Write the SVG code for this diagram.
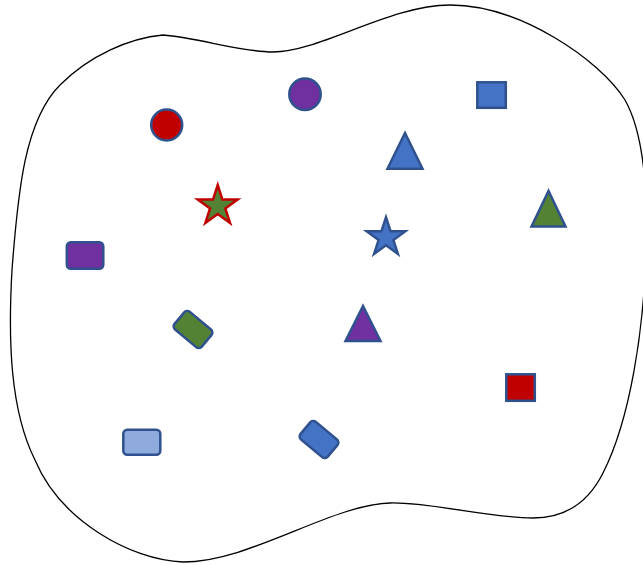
<svg xmlns="http://www.w3.org/2000/svg" width="643" height="565" viewBox="0 0 643 565">
<style>
.blob{fill:#fff;stroke:#000;stroke-width:1.3}
.s{stroke:#2F528F;stroke-width:2.5;stroke-linejoin:miter}
.blue{fill:#4472C4}
.red{fill:#C00000}
.purple{fill:#7030A0}
.green{fill:#548235}
.lblue{fill:#8FAADC}
</style>
<defs>
<polygon id="star" points="0,-21 4.70,-6.47 19.97,-6.49 7.61,2.47 12.34,16.99 0,8 -12.34,16.99 -7.61,2.47 -19.97,-6.49 -4.70,-6.47"/>
</defs>
<rect width="643" height="565" fill="#fff"/>
<path class="blob" d="M163,35 C200,38 240,52 273,52 C320,52 390,5 450,5 C520,5 600,60 625,100 C645,135 648,200 646,250 C644,330 630,420 603,473 C588,503 565,518 533,518 C490,518 430,502 390,503 C330,505 250,562 183,562 C130,560 60,520 35,460 C10,410 8,340 12,270 C18,190 25,120 60,85 C90,55 130,38 163,35 Z"/>
<g id="red-circle"><circle class="s red" cx="166.7" cy="125" r="15.5"/></g>
<g id="purple-circle"><circle class="s purple" cx="305" cy="94.3" r="15.7"/></g>
<g id="blue-square"><rect class="s blue" x="477.3" y="82.3" width="28.5" height="25.5"/></g>
<g id="blue-triangle"><polygon class="s blue" points="405,133 387.5,168.7 422.5,168.7"/></g>
<g id="green-triangle"><polygon class="s green" points="548.5,191 531.5,226.5 565.5,226.5"/></g>
<g id="red-star"><use href="#star" transform="translate(217.7,206)" fill="#548235" stroke="#C00000" stroke-width="2.5"/></g>
<g id="blue-star"><use href="#star" transform="translate(386,237.5) scale(0.97)" fill="#4472C4" stroke="#2F528F" stroke-width="2.5"/></g>
<g id="purple-rect"><rect class="s purple" x="66.8" y="242.3" width="36.5" height="26.5" rx="4"/></g>
<g id="green-rect"><rect class="s green" x="-17.75" y="-11.5" width="35.5" height="23" rx="4" transform="translate(193,329.5) rotate(40)"/></g>
<g id="purple-triangle"><polygon class="s purple" points="363,306 345.5,341 380.5,341"/></g>
<g id="red-square"><rect class="s red" x="506.3" y="374.3" width="28.5" height="26.5"/></g>
<g id="lightblue-rect"><rect class="s lblue" x="123.3" y="429.8" width="37" height="25" rx="4"/></g>
<g id="blue-rect"><rect class="s blue" x="-17.75" y="-11.5" width="35.5" height="23" rx="4" transform="translate(319,439.5) rotate(40)"/></g>
<g id="connectors"></g>
</svg>
